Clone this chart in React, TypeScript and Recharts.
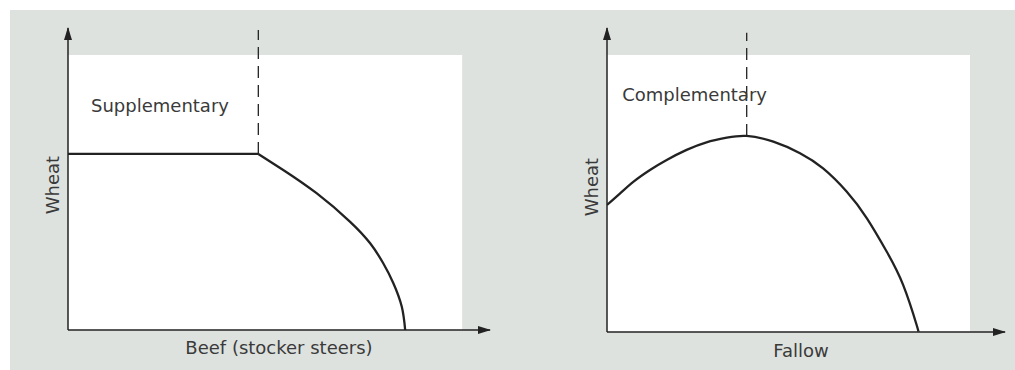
import { LineChart, Line, XAxis, YAxis, ReferenceLine, ReferenceArea, ReferenceDot } from 'recharts';

// Left panel: supplementary enterprises (wheat vs beef)
const suppFlatX = [0, 45.1];
const suppFlatWheat = [58.3, 58.3];
const suppCurveX = [45.1, 51.0, 58.9, 66.8, 71.6, 74.7, 77.1, 79.1, 79.9];
const suppCurveWheat = [58.3, 53.0, 45.3, 35.9, 28.7, 22.1, 15.5, 7.7, 0];

// Right panel: complementary enterprises (wheat vs fallow)
const compX = [0, 3.3, 6.6, 10.8, 15.0, 20.0, 25.0, 30.1, 35.1, 41.8, 48.5, 54.3, 60.2, 65.3, 70.3, 74.4, 77.8, 78.2];
const compWheat = [41.8, 45.6, 49.4, 53.3, 56.6, 59.9, 62.4, 63.9, 64.5, 62.6, 58.8, 53.8, 46.2, 37.4, 26.4, 15.5, 2.3, 0];

const INK = '#222';
const TEXT = '#3a3a3a';
const FONT = 'DejaVu Sans';
const FONT_SIZE = 18;

const toPoints = (xs: number[], ys: number[]) => xs.map((x, i) => ({ x, y: ys[i] }));

// axis title drawn from the axis viewBox, nudged by dx/dy
const axisTitle = (text: string, dx: number, dy: number, angle = 0) => (props: any) => {
  const { x, y, width, height } = props.viewBox;
  const cx = x + width / 2 + dx;
  const cy = y + height / 2 + dy;
  return (
    <text
      x={cx}
      y={cy}
      textAnchor="middle"
      dominantBaseline="central"
      fontFamily={FONT}
      fontSize={FONT_SIZE}
      fill={TEXT}
      transform={angle ? `rotate(${angle} ${cx} ${cy})` : undefined}
    >
      {text}
    </text>
  );
};

const upArrow = (p: any) => (
  <polygon points={`${p.cx},${p.cy - 1} ${p.cx - 4},${p.cy + 12} ${p.cx + 4},${p.cy + 12}`} fill={INK} />
);
const rightArrow = (p: any) => (
  <polygon points={`${p.cx + 1},${p.cy} ${p.cx - 12},${p.cy - 4} ${p.cx - 12},${p.cy + 4}`} fill={INK} />
);
const noteText = (text: string) => (p: any) => (
  <text x={p.cx} y={p.cy} textAnchor="middle" dominantBaseline="central" fontFamily={FONT} fontSize={FONT_SIZE} fill={TEXT}>
    {text}
  </text>
);

interface PanelProps {
  margin: { top: number; right: number; bottom: number; left: number };
  series: { x: number; y: number }[][];
  dashX: number;
  dashFrom: number;
  dashTo: number;
  panelX: number;
  panelY: number;
  note: string;
  noteAt: [number, number];
  xTitle: string;
  xShift: [number, number];
  yShift: [number, number];
}

const Panel = ({ margin, series, dashX, dashFrom, dashTo, panelX, panelY, note, noteAt, xTitle, xShift, yShift }: PanelProps) => (
  <LineChart width={500} height={370} margin={margin}>
    <ReferenceArea x1={0} x2={panelX} y1={0} y2={panelY} fill="#ffffff" fillOpacity={1} stroke="none" />
    <XAxis
      type="number"
      dataKey="x"
      domain={[0, 100]}
      allowDataOverflow
      tick={false}
      tickLine={false}
      height={34}
      axisLine={{ stroke: INK, strokeWidth: 1.5 }}
      label={axisTitle(xTitle, xShift[0], xShift[1])}
    />
    <YAxis
      type="number"
      dataKey="y"
      domain={[0, 100]}
      allowDataOverflow
      tick={false}
      tickLine={false}
      width={40}
      axisLine={{ stroke: INK, strokeWidth: 1.5 }}
      label={axisTitle('Wheat', yShift[0], yShift[1], -90)}
    />
    <ReferenceLine
      segment={[{ x: dashX, y: dashFrom }, { x: dashX, y: dashTo }]}
      stroke={INK}
      strokeWidth={1.3}
      strokeDasharray="12 7"
    />
    {series.map((pts, i) => (
      <Line
        key={i}
        data={pts}
        dataKey="y"
        type={pts.length > 2 ? 'natural' : 'linear'}
        stroke={INK}
        strokeWidth={2.3}
        dot={false}
        activeDot={false}
        isAnimationActive={false}
      />
    ))}
    <ReferenceDot x={noteAt[0]} y={noteAt[1]} r={0} shape={noteText(note)} />
    <ReferenceDot x={0} y={100} r={0} shape={upArrow} />
    <ReferenceDot x={100} y={0} r={0} shape={rightArrow} />
  </LineChart>
);

export default function App() {
  return (
    <div style={{ position: 'absolute', left: 0, top: 0, width: 1015, height: 370, background: '#ffffff' }}>
      <div style={{ position: 'absolute', left: 10, top: 10, width: 1005, height: 360, background: '#dee2df' }} />
      <div style={{ position: 'absolute', left: 0, top: 0 }}>
        <Panel
          margin={{ top: 28, right: 10, bottom: 6, left: 28 }}
          series={[toPoints(suppFlatX, suppFlatWheat), toPoints(suppCurveX, suppCurveWheat)]}
          dashX={45.1}
          dashFrom={58.3}
          dashTo={99.3}
          panelX={93.4}
          panelY={91.1}
          note="Supplementary"
          noteAt={[21.8, 74.2]}
          xTitle="Beef (stocker steers)"
          xShift={[0, 0]}
          yShift={[4, 6]}
        />
      </div>
      <div style={{ position: 'absolute', left: 515, top: 0 }}>
        <Panel
          margin={{ top: 28, right: 10, bottom: 4, left: 52 }}
          series={[toPoints(compX, compWheat)]}
          dashX={35.1}
          dashFrom={64.5}
          dashTo={98.4}
          panelX={91.2}
          panelY={91.1}
          note="Complementary"
          noteAt={[22.0, 78.0]}
          xTitle="Fallow"
          xShift={[-5, 1]}
          yShift={[4, 7]}
        />
      </div>
    </div>
  );
}
